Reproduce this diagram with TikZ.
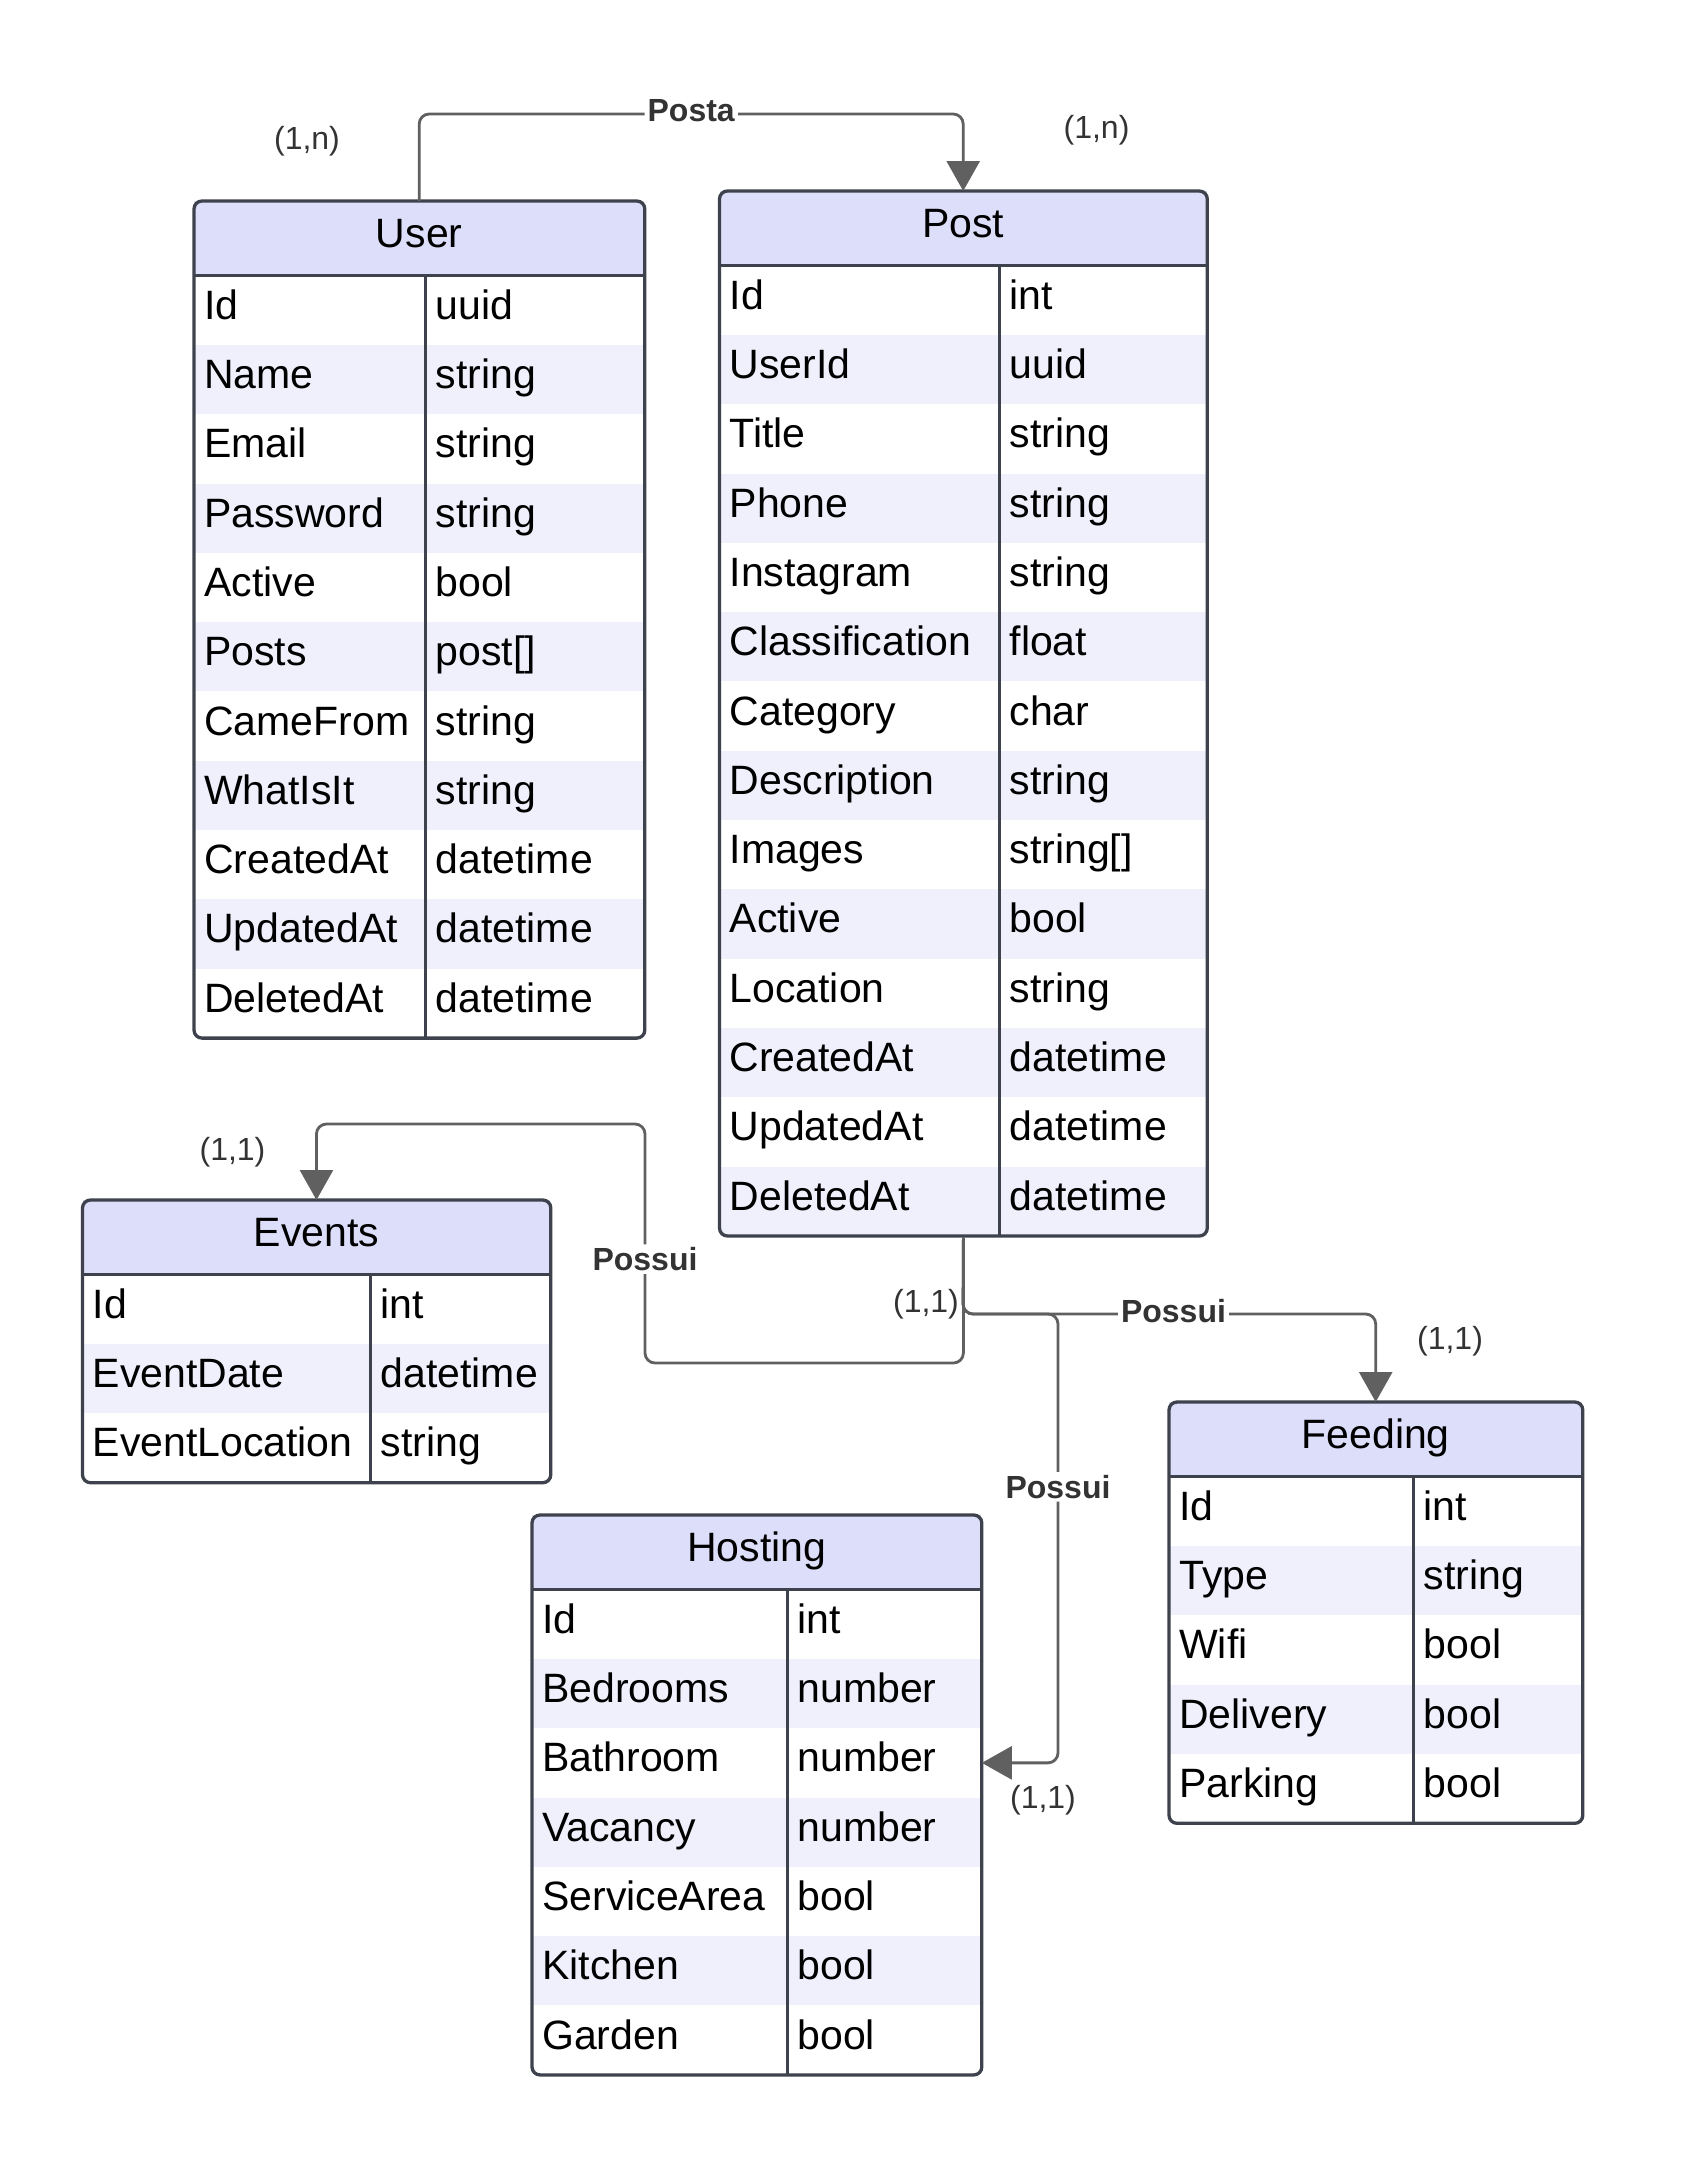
\documentclass[tikz,border=0pt]{standalone}
\usepackage{fontspec}
\setmainfont{Liberation Sans}
\usetikzlibrary{arrows.meta,calc,fit}

\definecolor{headfill}{RGB}{221,222,250}
\definecolor{stripe}{RGB}{240,240,253}
\definecolor{edge}{RGB}{62,66,76}
\definecolor{wire}{RGB}{96,96,96}
\definecolor{tagtext}{RGB}{51,51,51}

\begin{document}
\begin{tikzpicture}[
x=1pt, y=-1pt,
entityhead/.style={
rectangle, anchor=north west, fill=headfill,
inner sep=0pt, minimum height=74pt,
text height=28.5pt, text depth=10.5pt,
font=\fontsize{41}{49}\selectfont
},
cell/.style={
rectangle, anchor=north west,
inner xsep=10pt, inner ysep=0pt,
text width=#1, align=left,
minimum height=69.3pt,
text height=28.5pt, text depth=10.5pt,
font=\fontsize{41}{49}\selectfont
},
row/.code={\ifodd#1\relax\pgfkeysalso{/tikz/fill=white}\else\pgfkeysalso{/tikz/fill=stripe}\fi},
frame/.style={draw=edge, line width=3.3pt, rounded corners=8pt, inner sep=0pt},
rule/.style={draw=edge, line width=3pt},
link/.style={draw=wire, line width=2.8pt, rounded corners=10pt},
arrowed/.style={-{Triangle[width=33pt,length=30pt]}},
rel/.style={fill=white, inner sep=3pt, text=tagtext,
font=\bfseries\fontsize{32}{38}\selectfont},
card/.style={text=tagtext, font=\fontsize{32}{38}\selectfont}
]

\useasboundingbox (0,0) rectangle (1684,2158);

% =======================
% USER
% =======================

\node[entityhead, minimum width=450pt] (user) at (194,201) {User};
\foreach \attr/\kind [count=\i] in {Id/uuid, Name/string, Email/string,
  Password/string, Active/bool, Posts/{post[]}, CameFrom/string,
  WhatIsIt/string, CreatedAt/datetime, UpdatedAt/datetime, DeletedAt/datetime} {
  \node[cell=211pt, row=\i] (user-k\i) at ($(user.south west)+(0,{(\i-1)*69.3})$) {\attr};
  \node[cell=199pt, row=\i] (user-t\i) at (user-k\i.north east) {\kind};
}
\node[frame, fit=(user)(user-t11)] (user-box) {};
\draw[rule] (user.south west) -- (user.south east);
\draw[rule] (user-t1.north west) -- (user-t11.south west);

% =======================
% POST
% =======================

\node[entityhead, minimum width=487pt] (post) at (719.5,191) {Post};
\foreach \attr/\kind [count=\i] in {Id/int, UserId/uuid, Title/string,
  Phone/string, Instagram/string, Classification/float, Category/char,
  Description/string, Images/{string[]}, Active/bool, Location/string,
  CreatedAt/datetime, UpdatedAt/datetime, DeletedAt/datetime} {
  \node[cell=259.5pt, row=\i] (post-k\i) at ($(post.south west)+(0,{(\i-1)*69.3})$) {\attr};
  \node[cell=187.5pt, row=\i] (post-t\i) at (post-k\i.north east) {\kind};
}
\node[frame, fit=(post)(post-t14)] (post-box) {};
\draw[rule] (post.south west) -- (post.south east);
\draw[rule] (post-t1.north west) -- (post-t14.south west);

% =======================
% EVENTS
% =======================

\node[entityhead, minimum width=467.5pt] (events) at (82.5,1200) {Events};
\foreach \attr/\kind [count=\i] in {Id/int, EventDate/datetime, EventLocation/string} {
  \node[cell=267.5pt, row=\i] (events-k\i) at ($(events.south west)+(0,{(\i-1)*69.3})$) {\attr};
  \node[cell=160pt, row=\i] (events-t\i) at (events-k\i.north east) {\kind};
}
\node[frame, fit=(events)(events-t3)] (events-box) {};
\draw[rule] (events.south west) -- (events.south east);
\draw[rule] (events-t1.north west) -- (events-t3.south west);

% =======================
% HOSTING
% =======================

\node[entityhead, minimum width=449pt] (hosting) at (532,1515) {Hosting};
\foreach \attr/\kind [count=\i] in {Id/int, Bedrooms/number, Bathroom/number,
  Vacancy/number, ServiceArea/bool, Kitchen/bool, Garden/bool} {
  \node[cell=235pt, row=\i] (hosting-k\i) at ($(hosting.south west)+(0,{(\i-1)*69.3})$) {\attr};
  \node[cell=174pt, row=\i] (hosting-t\i) at (hosting-k\i.north east) {\kind};
}
\node[frame, fit=(hosting)(hosting-t7)] (hosting-box) {};
\draw[rule] (hosting.south west) -- (hosting.south east);
\draw[rule] (hosting-t1.north west) -- (hosting-t7.south west);

% =======================
% FEEDING
% =======================

\node[entityhead, minimum width=413pt] (feeding) at (1169,1402) {Feeding};
\foreach \attr/\kind [count=\i] in {Id/int, Type/string, Wifi/bool,
  Delivery/bool, Parking/bool} {
  \node[cell=224pt, row=\i] (feeding-k\i) at ($(feeding.south west)+(0,{(\i-1)*69.3})$) {\attr};
  \node[cell=149pt, row=\i] (feeding-t\i) at (feeding-k\i.north east) {\kind};
}
\node[frame, fit=(feeding)(feeding-t5)] (feeding-box) {};
\draw[rule] (feeding.south west) -- (feeding.south east);
\draw[rule] (feeding-t1.north west) -- (feeding-t5.south west);

% =======================
% RELATIONSHIPS
% =======================

\coordinate (posta-y) at (0,114);
\coordinate (fork) at (963,1314);
\coordinate (ev-low) at (645,1363);
\coordinate (ev-high) at (645,1124);
\coordinate (ho-bend) at (1058,1314);

\draw[link, arrowed] (user.north) -- (user.north |- posta-y)
  -- node[rel, yshift=3pt] {Posta} (post.north |- posta-y) -- (post.north);

\draw[link, arrowed] (post-box.south) -- (post-box.south |- ev-low) -- (ev-low)
  -- node[rel, pos=0.435] {Possui} (ev-high) -- (ev-high -| events.north) -- (events.north);

\draw[link, arrowed] (post-box.south) -- (fork)
  -- node[rel, pos=0.51, yshift=3pt] {Possui} (fork -| feeding.north) -- (feeding.north);

\draw[link, arrowed] (post-box.south) -- (fork) -- (ho-bend)
  -- node[rel, pos=0.385] {Possui} (ho-bend |- hosting-t3.east) -- (hosting-t3.east);

% =======================
% CARDINALITIES
% =======================

\node[card] (c-user) at (307,141) {(1,n)};
\node[card] (c-post) at (1096.5,130) {(1,n)};
\node[card] (c-events) at (232.5,1152) {(1,1)};
\node[card] (c-post-ev) at (926,1304) {(1,1)};
\node[card] (c-feeding) at (1450,1341) {(1,1)};
\node[card] (c-hosting) at (1043,1800) {(1,1)};

\end{tikzpicture}
\end{document}
